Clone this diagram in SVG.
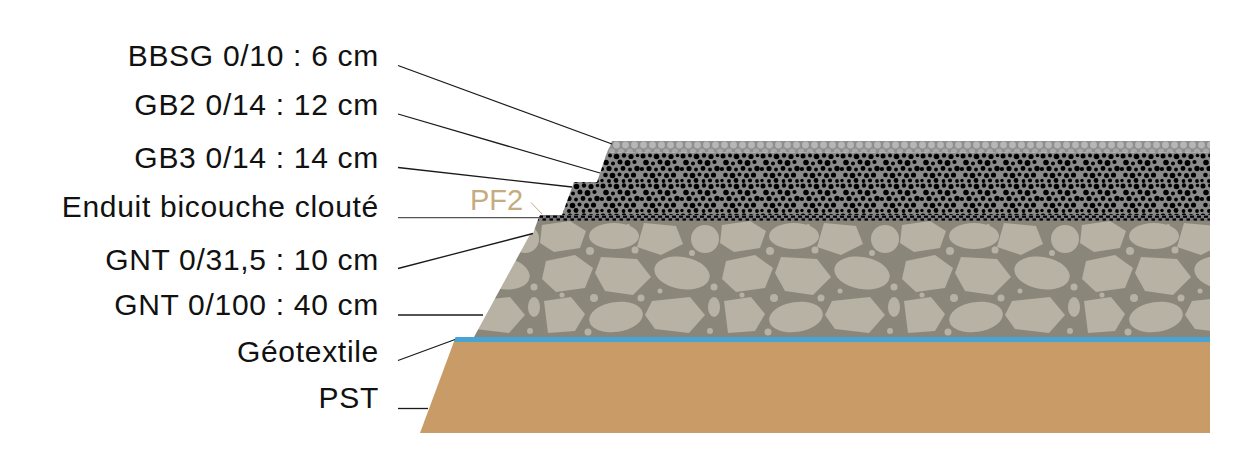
<svg xmlns="http://www.w3.org/2000/svg" width="1240" height="472" viewBox="0 0 1240 472">
<style>
.lbl{font-family:"Liberation Sans",Arial,sans-serif;font-size:30px;fill:#111;text-anchor:end;letter-spacing:0.7px}
.pf{font-family:"Liberation Sans",Arial,sans-serif;font-size:29px;fill:#c6ab7f}
.ld{stroke:#1a1a1a;stroke-width:1.3;fill:none}
.stone{fill:#b7b2a3}
.blk{fill:#000}
</style>
<defs>
<pattern id="pBBSG" patternUnits="userSpaceOnUse" x="0" y="141" width="9" height="12">
<rect width="9" height="12" fill="#8f8f8f"/>
<circle cx="4.5" cy="4" r="3.4" fill="#b6b6b6"/>
<circle cx="0" cy="10.5" r="3" fill="#a8a8a8"/>
<circle cx="9" cy="10.5" r="3" fill="#a8a8a8"/>
</pattern>
<pattern id="pGB" patternUnits="userSpaceOnUse" x="0" y="153" width="40" height="30">
<rect width="40" height="30" fill="#8a8a8a"/>
<g class="blk">
<circle cx="3" cy="3" r="2.5"/><circle cx="10" cy="2.5" r="2"/><circle cx="16.5" cy="3.5" r="2.8"/><circle cx="24" cy="2.5" r="2.2"/><circle cx="31" cy="3.5" r="2.6"/><circle cx="37.5" cy="2.5" r="1.8"/>
<circle cx="6" cy="9.5" r="2.8"/><circle cx="13" cy="10.5" r="2"/><circle cx="20" cy="9" r="2.5"/><circle cx="27.5" cy="10" r="2.9"/><circle cx="34.5" cy="9" r="2.1"/>
<circle cx="2" cy="16" r="2.1"/><circle cx="9" cy="15.5" r="2.6"/><circle cx="16" cy="16.5" r="1.9"/><circle cx="23" cy="15.5" r="2.4"/><circle cx="30" cy="16.5" r="2"/><circle cx="37" cy="15.5" r="2.7"/>
<circle cx="5.5" cy="22" r="2.3"/><circle cx="12.5" cy="22.5" r="2.8"/><circle cx="19.5" cy="21.5" r="2"/><circle cx="26.5" cy="22.5" r="2.5"/><circle cx="33.5" cy="22" r="2.6"/>
<circle cx="2" cy="27.5" r="1.7"/><circle cx="9" cy="28" r="2"/><circle cx="16" cy="27.5" r="2.4"/><circle cx="23.5" cy="28" r="1.9"/><circle cx="30" cy="27.5" r="2.1"/><circle cx="37" cy="28" r="1.9"/>
</g>
</pattern>
<pattern id="pEnd" patternUnits="userSpaceOnUse" x="0" y="215" width="7" height="6">
<rect width="7" height="6" fill="#7d7d80"/>
<rect x="0" y="0.6" width="4" height="2.2" fill="#000"/>
<rect x="3.5" y="3.4" width="3.5" height="2.2" fill="#000"/>
</pattern>
<pattern id="pGNT" patternUnits="userSpaceOnUse" x="0" y="221" width="180" height="116">
<rect width="180" height="116" fill="#8b867a"/>
<g class="stone">
<polygon points="2,4 30,0 46,10 40,27 14,31 0,22"/>
<ellipse cx="74" cy="15" rx="25" ry="13"/>
<polygon points="104,2 136,5 143,23 121,34 97,26"/>
<ellipse cx="165" cy="18" rx="14" ry="14"/>
<polygon points="6,40 35,34 53,47 45,67 16,71 2,58"/>
<polygon points="61,36 97,38 111,56 93,74 65,70 55,52"/>
<ellipse cx="142" cy="52" rx="28" ry="16" transform="rotate(10 142 52)"/>
<polygon points="4,80 31,76 45,93 35,110 8,112"/>
<ellipse cx="76" cy="96" rx="27" ry="15" transform="rotate(-8 76 96)"/>
<polygon points="112,80 150,76 165,94 149,112 115,108 105,94"/>
<ellipse cx="174" cy="86" rx="6" ry="10"/>
<circle cx="50" cy="30" r="4"/><circle cx="95" cy="29" r="3.5"/><circle cx="152" cy="32" r="3"/>
<circle cx="54" cy="77" r="4"/><circle cx="101" cy="77" r="3.5"/><circle cx="174" cy="66" r="3.5"/>
<circle cx="48" cy="111" r="3.5"/><circle cx="170" cy="110" r="3"/><circle cx="22" cy="74" r="2.5"/>
<circle cx="120" cy="70" r="2.5"/><circle cx="88" cy="5" r="2"/>
</g>
</pattern>
</defs>

<g id="layers">
<g id="pst"><polygon points="454,341.5 1210,341.5 1210,433 420,433" fill="#c99b66"/></g>
<g id="geotextile"><polygon points="455.5,337 1210,337 1210,342 454,342" fill="#48a4d4"/></g>
<g id="gnt"><polygon points="537.5,221 1210,221 1210,337 474,337 530,234.5 533,233.5" fill="url(#pGNT)"/></g>
<g id="enduit"><polygon points="540,215 1210,215 1210,221 537.5,221" fill="url(#pEnd)"/></g>
<g id="gb3"><polygon points="574,182 1210,182 1210,215 562,215" fill="url(#pGB)"/></g>
<g id="gb2"><polygon points="607,152.5 1210,152.5 1210,182 597,182" fill="url(#pGB)"/></g>
<g id="bbsg"><polygon points="612,141 1210,141 1210,152.5 607,152.5" fill="url(#pBBSG)"/></g>
</g>

<g id="connectors">
<line class="ld" x1="398" y1="65.5" x2="612" y2="144"/>
<line class="ld" x1="398" y1="114" x2="600" y2="173"/>
<line class="ld" x1="398" y1="167.5" x2="572" y2="187"/>
<line class="ld" x1="398" y1="217.7" x2="540" y2="217.7" style="stroke:#555"/>
<line class="ld" x1="398" y1="268.5" x2="533" y2="233.5"/>
<line class="ld" x1="398" y1="315" x2="483" y2="315"/>
<line class="ld" x1="398" y1="360.5" x2="455" y2="339.5"/>
<line class="ld" x1="398" y1="408.5" x2="428" y2="408.5"/>
<line x1="531" y1="202.5" x2="542" y2="214" stroke="#c6ab7f" stroke-width="1"/>
</g>

<g id="labels">
<text class="lbl" x="379" y="65.7">BBSG 0/10 : 6 cm</text>
<text class="lbl" x="379" y="115">GB2 0/14 : 12 cm</text>
<text class="lbl" x="379" y="168.3">GB3 0/14 : 14 cm</text>
<text class="lbl" x="379" y="216.7">Enduit bicouche clouté</text>
<text class="lbl" x="379" y="270">GNT 0/31,5 : 10 cm</text>
<text class="lbl" x="379" y="315">GNT 0/100 : 40 cm</text>
<text class="lbl" x="379" y="361.7">Géotextile</text>
<text class="lbl" x="379" y="408.3">PST</text>
<text class="pf" x="470" y="210">PF2</text>
</g>
</svg>
